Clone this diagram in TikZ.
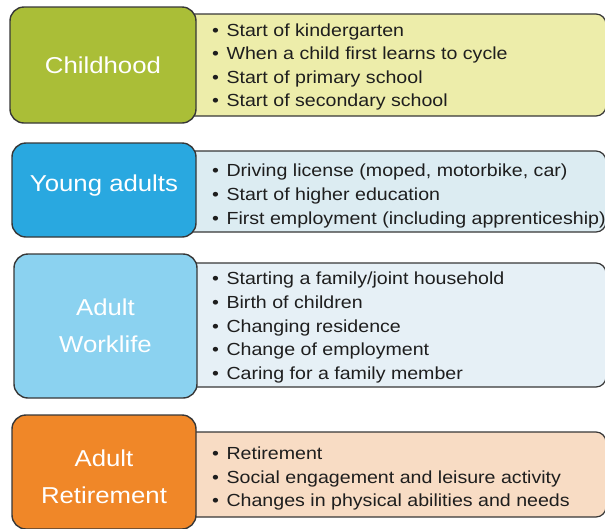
\documentclass[tikz,border=0pt]{standalone}
\usepackage{fontspec}
\setmainfont[FakeStretch=1.12]{Liberation Sans}
\definecolor{gC}{RGB}{170,190,55}
\definecolor{gCr}{RGB}{237,237,170}
\definecolor{gY}{RGB}{41,168,224}
\definecolor{gYr}{RGB}{220,236,242}
\definecolor{gW}{RGB}{139,210,240}
\definecolor{gWr}{RGB}{230,240,246}
\definecolor{gR}{RGB}{240,135,40}
\definecolor{gRr}{RGB}{248,220,196}
\definecolor{edge}{RGB}{55,55,55}
\definecolor{txt}{RGB}{30,30,30}
\tikzset{
  phasebox/.style={draw=edge, line width=1.4pt, rounded corners=14pt, inner sep=0pt},
  phaselabel/.style={text=white, font=\fontsize{23}{37}\selectfont, align=center, inner sep=0pt},
  listbox/.style={draw=edge, line width=1.2pt, rounded corners=10pt},
  listtext/.style={anchor=west, align=left, text=txt, inner sep=0pt,
    font=\fontsize{17.5}{23.6}\selectfont}
}
\newcommand{\bul}{\textbullet\hspace{7.5pt}}
\begin{document}
\begin{tikzpicture}[x=1pt,y=-1pt]
\useasboundingbox (0,0) rectangle (605,528);
\clip (0,0) rectangle (605,528);
% Childhood
\draw[listbox, fill=gCr] (170,14) -- (606,14) -- (606,116) -- (170,116) -- cycle;
\node[phasebox, fill=gC, minimum width=186pt, minimum height=116pt] (c1) at (103,65) {};
\node[phaselabel] (t1) at (103,65) {Childhood};
\node[listtext] (l1) at (212,67) {\bul Start of kindergarten\\\bul When a child first learns to cycle\\\bul Start of primary school\\\bul Start of secondary school};
% Young adults
\draw[listbox, fill=gYr] (170,151) -- (606,151) -- (606,232) -- (170,232) -- cycle;
\node[phasebox, fill=gY, minimum width=184pt, minimum height=94pt] (c2) at (104,190) {};
\node[phaselabel] (t2) at (104,186) {Young adults};
\node[listtext] (l2) at (212,196) {\bul Driving license (moped, motorbike, car)\\\bul Start of higher education\\\bul First employment (including apprenticeship)};
% Adult Worklife
\draw[listbox, fill=gWr] (170,263) -- (606,263) -- (606,387) -- (170,387) -- cycle;
\node[phasebox, fill=gW, minimum width=183pt, minimum height=144pt] (c3) at (105.5,326) {};
\node[phaselabel] (t3) at (105.5,326) {Adult\\Worklife};
\node[listtext] (l3) at (212,327.5) {\bul Starting a family/joint household\\\bul Birth of children\\\bul Changing residence\\\bul Change of employment\\\bul Caring for a family member};
% Adult Retirement
\draw[listbox, fill=gRr] (170,432) -- (606,432) -- (606,517) -- (170,517) -- cycle;
\node[phasebox, fill=gR, minimum width=184pt, minimum height=114pt] (c4) at (104,472) {};
\node[phaselabel] (t4) at (104,476.5) {Adult\\Retirement};
\node[listtext] (l4) at (212,478.5) {\bul Retirement\\\bul Social engagement and leisure activity\\\bul Changes in physical abilities and needs};
\end{tikzpicture}
\end{document}
